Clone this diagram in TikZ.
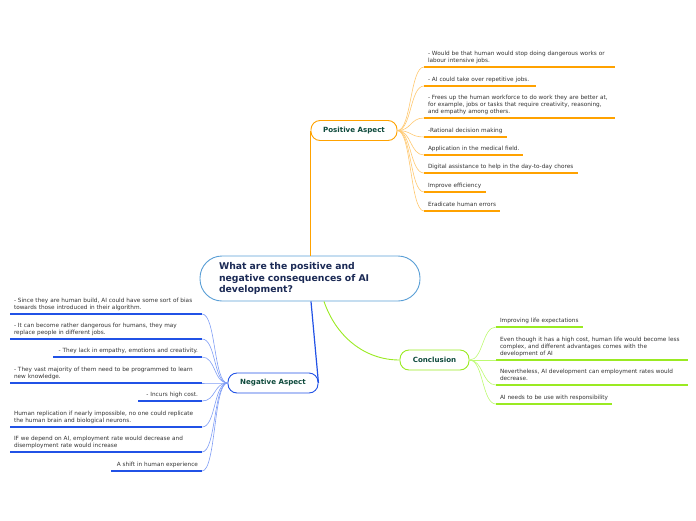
\documentclass[tikz,border=0pt]{standalone}
\usepackage{fontspec}
\setmainfont{DejaVu Sans}
\usepackage{xcolor}
\usetikzlibrary{positioning,calc}

\definecolor{posc}{HTML}{FFA200}
\definecolor{posl}{HTML}{FFC870}
\definecolor{negc}{HTML}{2152E6}
\definecolor{negl}{HTML}{7F9DF5}
\definecolor{conc}{HTML}{9AEA22}
\definecolor{conl}{HTML}{BDFA72}
\definecolor{mainb}{HTML}{5A9FD6}
\definecolor{maint}{HTML}{1B2A55}
\definecolor{brt}{HTML}{0E4A3C}
\definecolor{leaft}{HTML}{333333}

\begin{document}
\begin{tikzpicture}[
  x=1pt, y=-1pt,
  topic/.style={rectangle,rounded corners=22pt,draw=mainb,line width=0.9pt,fill=white,
    minimum width=220pt,minimum height=45pt,text width=182pt,align=left,
    text=maint,font=\fontsize{9.3}{11.7}\selectfont\bfseries},
  branch/.style={rectangle,rounded corners=9pt,draw,line width=0.9pt,fill=white,
    minimum height=20pt,text=brt,font=\fontsize{7.1}{8}\selectfont\bfseries},
  leaf/.style={inner xsep=4pt,inner ysep=2pt,outer sep=0pt,align=left,text=leaft,
    font=\fontsize{5.75}{7}\selectfont,execute at end node=\strut},
  pline/.style={posc,line width=1.2pt},
  plink/.style={posl,line width=0.6pt},
  nline/.style={negc,line width=1.2pt},
  nlink/.style={negl,line width=0.6pt},
  cline/.style={conc,line width=1.2pt},
  clink/.style={conl,line width=0.6pt}
]
\useasboundingbox (0,0) rectangle (696,520);

\node[topic] (main) at (310,278.5) {What are the positive and\\negative consequences of AI\\development?};
\node[branch,draw=posc,minimum width=86pt] (pos) at (354,130.5) {Positive Aspect};
\node[branch,draw=negc,minimum width=90pt] (neg) at (273,383) {Negative Aspect};
\node[branch,draw=conc,minimum width=69pt] (con) at (434.5,360) {Conclusion};

\draw[posc,line width=1.2pt] (pos.west |- main.north) -- (pos.west);
\draw[negc,line width=1.2pt] (main.south -| 311,0) -- (neg.east);
\draw[conc,line width=0.9pt] (main.south -| 324,0) .. controls +(12,35) and +(-35,0) .. (con.west);

\node[leaf,anchor=south west,text width=183pt] (p1) at (424,67) {- Would be that human would stop doing dangerous works or\\labour intensive jobs.};
\node[leaf,anchor=south west,text width=104pt] (p2) at (424,86) {\mbox{- AI could take over repetitive jobs.}};
\node[leaf,anchor=south west,text width=183pt] (p3) at (424,118) {- Frees up the human workforce to do work they are better at,\\for example, jobs or tasks that require creativity, reasoning,\\and empathy among others.};
\node[leaf,anchor=south west,text width=75pt] (p4) at (424,137) {\mbox{-Rational decision making}};
\node[leaf,anchor=south west,text width=91pt] (p5) at (424,155) {\mbox{Application in the medical field.}};
\node[leaf,anchor=south west,text width=146pt] (p6) at (424,173) {\mbox{Digital assistance to help in the day-to-day chores}};
\node[leaf,anchor=south west,text width=54pt] (p7) at (424,192) {\mbox{Improve efficiency}};
\node[leaf,anchor=south west,text width=68pt] (p8) at (424,211) {\mbox{Eradicate human errors}};

\node[leaf,anchor=south east,text width=184pt] (n1) at (202,314) {- Since they are human build, AI could have some sort of bias\\towards those introduced in their algorithm.};
\node[leaf,anchor=south east,text width=184pt] (n2) at (202,339) {- It can become rather dangerous for humans, they may\\replace people in different jobs.};
\node[leaf,anchor=south east,text width=141pt,align=right] (n3) at (202,357) {\mbox{- They lack in empathy, emotions and creativity.}};
\node[leaf,anchor=south east,text width=184pt] (n4) at (202,383) {- They vast majority of them need to be programmed to learn\\new knowledge.};
\node[leaf,anchor=south east,text width=56pt,align=right] (n5) at (202,401) {\mbox{- Incurs high cost.}};
\node[leaf,anchor=south east,text width=184pt] (n6) at (202,427) {Human replication if nearly impossible, no one could replicate\\the human brain and biological neurons.};
\node[leaf,anchor=south east,text width=184pt] (n7) at (202,452) {IF we depend on AI, employment rate would decrease and\\disemployment rate would increase};
\node[leaf,anchor=south east,text width=83pt,align=right] (n8) at (202,471) {\mbox{A shift in human experience}};

\node[leaf,anchor=south west,text width=79pt] (c1) at (496,327) {\mbox{Improving life expectations}};
\node[leaf,anchor=south west,text width=184pt] (c2) at (496,360) {Even though it has a high cost, human life would become less\\complex, and different advantages comes with the\\development of AI};
\node[leaf,anchor=south west,text width=184pt] (c3) at (496,385) {Nevertheless, AI development can employment rates would\\decrease.};
\node[leaf,anchor=south west,text width=108pt] (c4) at (496,404) {\mbox{AI needs to be use with responsibility}};

\foreach \i in {1,...,8} {
  \draw[plink] (pos.east) .. controls +(14,0) and +(-14,0) .. (p\i.south west);
  \draw[pline] (p\i.south west) -- (p\i.south east);
  \draw[nlink] (neg.west) .. controls +(-14,0) and +(14,0) .. (n\i.south east);
  \draw[nline] (n\i.south west) -- (n\i.south east);
}
\foreach \i in {1,...,4} {
  \draw[clink] (con.east) .. controls +(14,0) and +(-14,0) .. (c\i.south west);
  \draw[cline] (c\i.south west) -- (c\i.south east);
}
\end{tikzpicture}
\end{document}
